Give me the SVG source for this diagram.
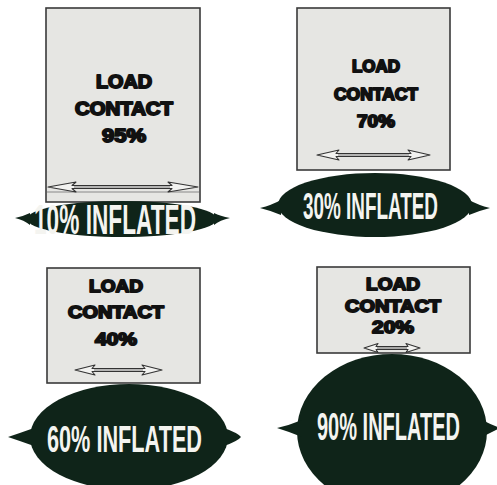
<svg xmlns="http://www.w3.org/2000/svg" width="497" height="485" viewBox="0 0 497 485">
<style>
.box{fill:#e6e6e3;stroke:#3a3a3a;stroke-width:1.6}
.lbl{font-family:"Liberation Sans",Arial,sans-serif;font-weight:bold;fill:#111;stroke:#111;stroke-width:1.8;stroke-linejoin:round;text-anchor:middle}
.tire{fill:#0f2419}
.inf{font-family:"Liberation Sans Narrow","Liberation Sans",Arial,sans-serif;font-weight:bold;fill:#f4f4f0;text-anchor:start}
.arr{fill:#f2f2f0;stroke:#333;stroke-width:1.1;stroke-linejoin:round}
.shaft{stroke:#777;stroke-width:1.2}
</style>
<rect width="497" height="485" fill="#ffffff"/>

<g id="panel-10">
  <rect class="box" x="46" y="8" width="154" height="194"/>
  <line x1="47" y1="192" x2="199" y2="192" stroke="#888" stroke-width="1"/>
  <text class="lbl" x="124" y="88" font-size="18" textLength="56" lengthAdjust="spacingAndGlyphs">LOAD</text>
  <text class="lbl" x="124" y="115" font-size="18" textLength="98" lengthAdjust="spacingAndGlyphs">CONTACT</text>
  <text class="lbl" x="124" y="142" font-size="18" textLength="44" lengthAdjust="spacingAndGlyphs">95%</text>
  <path class="arr" d="M48,187 L76,182 L72,185.5 L172,185.5 L168,182 L198,187 L168,192 L172,188.5 L72,188.5 L76,192 Z"/>
  <line class="shaft" x1="74" y1="187" x2="170" y2="187"/>
  <g class="tire">
    <ellipse cx="122" cy="219" rx="95" ry="18"/>
    <path d="M30,213 Q24,216 15,218 Q24,220 30,225 Z"/>
    <path d="M214,213 Q220,216 230,218 Q220,220 214,225 Z"/>
  </g>
  <text class="inf" x="34" y="234" font-size="42" textLength="162" lengthAdjust="spacingAndGlyphs">10% INFLATED</text>
</g>

<g id="panel-30">
  <rect class="box" x="297" y="8" width="153" height="162"/>
  <text class="lbl" x="376" y="72" font-size="16" textLength="48" lengthAdjust="spacingAndGlyphs">LOAD</text>
  <text class="lbl" x="376" y="100" font-size="16" textLength="84" lengthAdjust="spacingAndGlyphs">CONTACT</text>
  <text class="lbl" x="376" y="127" font-size="16" textLength="38" lengthAdjust="spacingAndGlyphs">70%</text>
  <path class="arr" d="M317,155 L339,150 L336,153.5 L411,153.5 L408,150 L430,155 L408,160 L411,156.5 L336,156.5 L339,160 Z"/>
  <line class="shaft" x1="338" y1="155" x2="409" y2="155"/>
  <g class="tire">
    <ellipse cx="375" cy="205" rx="97" ry="32"/>
    <path d="M281,200 Q272,205 260,208 Q272,211 281,215 Z"/>
    <path d="M469,200 Q478,205 490,208 Q478,211 469,215 Z"/>
  </g>
  <text class="inf" x="303" y="219" font-size="37" textLength="135" lengthAdjust="spacingAndGlyphs">30% INFLATED</text>
</g>

<g id="panel-60">
  <rect class="box" x="47" y="268" width="153" height="115"/>
  <text class="lbl" x="116" y="292" font-size="17" textLength="54" lengthAdjust="spacingAndGlyphs">LOAD</text>
  <text class="lbl" x="116" y="318" font-size="17" textLength="96" lengthAdjust="spacingAndGlyphs">CONTACT</text>
  <text class="lbl" x="116" y="345" font-size="17" textLength="42" lengthAdjust="spacingAndGlyphs">40%</text>
  <path class="arr" d="M75,370 L95,365 L92,368.5 L145,368.5 L142,365 L162,370 L142,375 L145,371.5 L92,371.5 L95,375 Z"/>
  <line class="shaft" x1="94" y1="370" x2="143" y2="370"/>
  <g class="tire">
    <ellipse cx="129" cy="437" rx="99" ry="53"/>
    <path d="M34,428 Q20,433 8,437 Q20,441 34,446 Z"/>
    <path d="M224,428 Q238,433 241,437 Q238,441 224,446 Z"/>
  </g>
  <text class="inf" x="47" y="452" font-size="37" textLength="155" lengthAdjust="spacingAndGlyphs">60% INFLATED</text>
</g>

<g id="panel-90">
  <rect class="box" x="317" y="267" width="153" height="86"/>
  <text class="lbl" x="393" y="290" font-size="17" textLength="54" lengthAdjust="spacingAndGlyphs">LOAD</text>
  <text class="lbl" x="393" y="312" font-size="17" textLength="96" lengthAdjust="spacingAndGlyphs">CONTACT</text>
  <text class="lbl" x="393" y="333" font-size="17" textLength="42" lengthAdjust="spacingAndGlyphs">20%</text>
  <path class="arr" d="M364,348 L378,343.5 L376,346.5 L408,346.5 L406,343.5 L420,348 L406,352.5 L408,349.5 L376,349.5 L378,352.5 Z"/>
  <line class="shaft" x1="377" y1="348" x2="407" y2="348"/>
  <g class="tire">
    <ellipse cx="392" cy="431" rx="95" ry="77"/>
    <path d="M302,420 Q290,425 277,428 Q290,432 302,437 Z"/>
    <path d="M482,420 Q492,425 500,428 Q492,432 482,437 Z"/>
  </g>
  <text class="inf" x="317" y="440" font-size="38" textLength="143" lengthAdjust="spacingAndGlyphs">90% INFLATED</text>
</g>
</svg>
